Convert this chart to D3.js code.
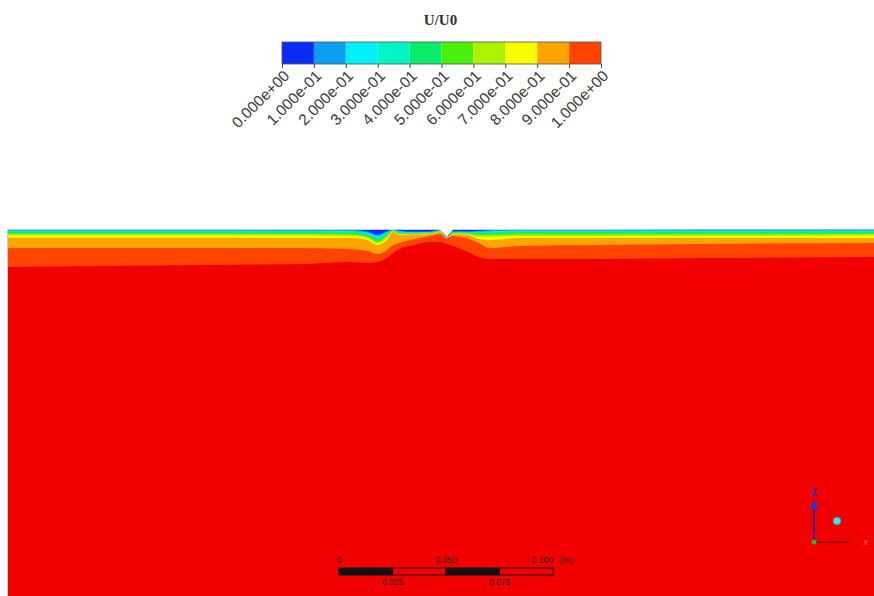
<!DOCTYPE html>
<html>
<head>
<meta charset="utf-8">
<script src="https://cdn.jsdelivr.net/npm/d3@7/dist/d3.min.js"></script>
<style>
  html, body { margin: 0; padding: 0; background: #fff; }
  svg { display: block; }
</style>
</head>
<body>
<div id="chart"></div>
<script>
// colour bar
const levels = [0, 0.1, 0.2, 0.3, 0.4, 0.5, 0.6, 0.7, 0.8, 0.9, 1.0];
const levelLabels = ['0.000e+00', '1.000e-01', '2.000e-01', '3.000e-01', '4.000e-01', '5.000e-01',
  '6.000e-01', '7.000e-01', '8.000e-01', '9.000e-01', '1.000e+00'];
const bandColors = ['#0a2cf5', '#0c9ef2', '#00f0fa', '#00f5c4', '#0aed6a', '#48f00a',
  '#acf200', '#fafa00', '#fca400', '#ff4400'];
const fieldColor = '#f20000';

// contour profiles: station position along the bed (mm) and depth below top (mm)
const stationX = [0, 43, 90, 136, 160, 168, 173, 177, 180, 183, 190, 197, 202, 205, 208, 214, 220, 225, 239, 277, 323, 405];
const surfaceDepth = [0.4, 0.4, 0.4, 0.4, 0.4, 0.4, 0.4, 0.4, 0.4, 0.4, 0.4, 0.4, 0.4, 3.7, 0.4, 0.4, 0.4, 0.4, 0.3, 0.3, 0.2, 0.2];
const depth01 = [0.4, 0.4, 0.4, 0.4, 0.4, 1.3, 2.7, 1.1, 0.4, 0.8, 1.2, 1.2, 0.5, 3.7, 1.1, 1.1, 0.9, 0.5, 0.3, 0.3, 0.2, 0.2];
const depth02 = [0.8, 0.8, 0.8, 0.8, 0.9, 1.7, 3.3, 1.5, 0.5, 1.2, 1.4, 1.3, 0.6, 3.7, 1.2, 1.3, 1.2, 1.0, 0.8, 0.8, 0.7, 0.7];
const depth03 = [1.2, 1.2, 1.2, 1.2, 1.3, 2.1, 4.0, 1.9, 0.6, 1.5, 1.6, 1.5, 0.7, 3.8, 1.4, 1.5, 1.5, 1.4, 1.2, 1.2, 1.2, 1.2];
const depth04 = [1.5, 1.5, 1.5, 1.5, 1.6, 2.6, 4.7, 2.3, 0.7, 1.7, 1.8, 1.6, 0.8, 3.8, 1.6, 1.7, 1.8, 1.7, 1.5, 1.5, 1.5, 1.5];
const depth05 = [1.9, 1.9, 1.9, 1.9, 2.1, 3.3, 5.4, 2.8, 0.8, 2.0, 2.0, 1.8, 0.9, 3.9, 1.8, 1.9, 2.2, 2.1, 1.9, 1.9, 1.9, 1.9];
const depth06 = [2.3, 2.3, 2.3, 2.3, 2.6, 3.7, 6.1, 3.3, 0.9, 2.2, 2.2, 2.0, 1.0, 3.9, 2.0, 2.1, 2.8, 2.8, 2.6, 2.6, 2.6, 2.3];
const depth07 = [3.0, 3.0, 3.0, 3.0, 3.3, 4.2, 6.8, 4.2, 1.2, 2.4, 2.4, 2.2, 1.2, 4.0, 2.2, 2.3, 3.7, 3.7, 3.3, 3.3, 3.3, 3.0];
const depth08 = [4.1, 4.1, 4.1, 4.2, 4.2, 5.1, 7.5, 5.1, 1.4, 2.8, 2.6, 2.3, 1.4, 4.1, 2.4, 2.6, 4.7, 5.1, 4.2, 4.2, 4.2, 4.2];
const depth09 = [8.9, 8.9, 8.9, 8.9, 9.3, 10.3, 11.7, 9.8, 7.5, 6.5, 4.7, 3.3, 2.3, 4.2, 3.3, 4.2, 6.5, 8.9, 7.9, 7.5, 7.0, 6.5];
const depth10 = [17.8, 17.3, 16.8, 16.4, 15.4, 15.9, 15.4, 13.6, 11.2, 9.3, 7.5, 6.1, 6.1, 7.0, 7.9, 10.3, 13.1, 14.0, 14.0, 14.0, 13.6, 13.1];
const isoDepths = [depth01, depth02, depth03, depth04, depth05, depth06, depth07, depth08, depth09, depth10];

// scale bar (mm from its origin)
const scaleBarOrigin = 154.7;
const scaleBarTicks = [0, 25, 50, 75, 100];
const scaleBarLabels = ['0', '0.025', '0.050', '0.075', '0.100'];

const width = 874, height = 596;

const svg = d3.select('#chart')
  .append('svg')
    .attr('width', width)
    .attr('height', height);

// domain scales
const xScale = d3.scaleLinear().domain([0, 404.7]).range([8, 874]);
const yScale = d3.scaleLinear().domain([0, 171.5]).range([229, 596]);

const field = svg.append('g').classed('field', true);

field.append('rect')
  .attr('x', xScale(0))
  .attr('y', yScale(0))
  .attr('width', xScale(404.7) - xScale(0))
  .attr('height', yScale(171.5) - yScale(0))
  .style('fill', fieldColor);

const bandArea = (depths) => d3.area()
  .x((d, i) => xScale(stationX[i]))
  .y0(yScale(0))
  .y1((d, i) => yScale(depths[i]))
  .curve(d3.curveMonotoneX);

// paint from the deepest iso-line up to the surface
for (let k = isoDepths.length - 1; k >= 0; k--) {
  field.append('path')
    .datum(isoDepths[k])
    .attr('d', bandArea(isoDepths[k]))
    .style('fill', bandColors[k]);
}

// empty region above the free surface
field.append('path')
  .datum(surfaceDepth)
  .attr('d', d3.area()
    .x((d, i) => xScale(stationX[i]))
    .y0(yScale(0) - 1)
    .y1((d) => yScale(d))
    .curve(d3.curveLinear))
  .style('fill', '#fff');

field.append('line')
  .attr('x1', xScale(0) - 0.5).attr('x2', xScale(0) - 0.5)
  .attr('y1', yScale(0)).attr('y2', height)
  .style('stroke', '#c8c8c8');

// colour bar
const cbScale = d3.scaleLinear().domain([0, 1]).range([282, 601]);
const cbTop = 42, cbHeight = 22;
const cb = svg.append('g').classed('colorbar', true);

cb.selectAll('rect.band')
  .data(bandColors)
  .enter()
    .append('rect')
    .classed('band', true)
    .attr('x', (d, i) => cbScale(levels[i]))
    .attr('y', cbTop)
    .attr('width', (d, i) => cbScale(levels[i + 1]) - cbScale(levels[i]))
    .attr('height', cbHeight)
    .style('fill', (d) => d);

cb.append('rect')
  .attr('x', cbScale(0))
  .attr('y', cbTop)
  .attr('width', cbScale(1) - cbScale(0))
  .attr('height', cbHeight)
  .style('fill', 'none')
  .style('stroke', '#555')
  .style('stroke-width', 0.8);

const cbAxis = d3.axisBottom(cbScale)
  .tickValues(levels)
  .tickSize(4)
  .tickFormat((d, i) => levelLabels[i]);

const cbAxisGroup = cb.append('g')
  .attr('transform', `translate(0,${cbTop + cbHeight})`)
  .call(cbAxis);
cbAxisGroup.select('.domain').remove();
cbAxisGroup.selectAll('.tick line').style('stroke', '#444');
cbAxisGroup.selectAll('.tick text')
  .attr('x', 0).attr('y', 0).attr('dy', '0.35em')
  .attr('transform', 'translate(4,9) rotate(-45)')
  .style('text-anchor', 'end')
  .style('font-family', '"Liberation Sans", Arial, sans-serif')
  .style('font-size', '15.5px')
  .style('fill', '#3a3a3a');

cb.append('text')
  .attr('x', (cbScale(0) + cbScale(1)) / 2 - 1)
  .attr('y', 25)
  .style('text-anchor', 'middle')
  .style('font-family', '"Liberation Serif", "Times New Roman", serif')
  .style('font-weight', 'bold')
  .style('font-size', '15px')
  .style('fill', '#333')
  .text('U/U0');

// scale bar
const sb = svg.append('g').classed('scalebar', true);
const sbx = (v) => xScale(scaleBarOrigin + v);
const sbTop = 568, sbH = 7;

sb.selectAll('rect.seg')
  .data(d3.pairs(scaleBarTicks))
  .enter()
    .append('rect')
    .classed('seg', true)
    .attr('x', (d) => sbx(d[0]))
    .attr('y', sbTop)
    .attr('width', (d) => sbx(d[1]) - sbx(d[0]))
    .attr('height', sbH)
    .style('fill', (d, i) => i % 2 === 0 ? '#111' : 'none')
    .style('stroke', '#111')
    .style('stroke-width', 1);

sb.selectAll('text.lab')
  .data(scaleBarTicks)
  .enter()
    .append('text')
    .classed('lab', true)
    .attr('x', (d) => sbx(d))
    .attr('y', (d, i) => i % 2 === 0 ? sbTop - 5 : sbTop + sbH + 10)
    .style('text-anchor', (d, i) => i === scaleBarTicks.length - 1 ? 'end' : 'middle')
    .style('font-family', '"Liberation Sans", Arial, sans-serif')
    .style('font-size', '8.5px')
    .style('fill', '#222')
    .text((d, i) => scaleBarLabels[i]);

sb.append('text')
  .attr('x', sbx(100) + 7)
  .attr('y', sbTop - 5)
  .style('font-family', '"Liberation Sans", Arial, sans-serif')
  .style('font-size', '8.5px')
  .style('fill', '#222')
  .text('(m)');

// orientation triad
const triad = svg.append('g').attr('transform', 'translate(814,542)');
triad.append('line')
  .attr('x1', 0).attr('y1', 0).attr('x2', 36).attr('y2', 0)
  .style('stroke', '#8a0000').style('stroke-width', 1.6);
triad.append('text')
  .attr('x', 49).attr('y', 3)
  .style('font-family', '"Liberation Sans", Arial, sans-serif')
  .style('font-size', '8px')
  .style('fill', '#ff7070')
  .text('X');
triad.append('line')
  .attr('x1', 0).attr('y1', 0).attr('x2', 0).attr('y2', -35)
  .style('stroke', '#2a1fb0').style('stroke-width', 1.8);
triad.append('path')
  .attr('d', 'M0,-43 L-4,-33 L4,-33 Z')
  .style('fill', '#2a30d8');
triad.append('text')
  .attr('x', 0).attr('y', -46)
  .style('text-anchor', 'middle')
  .style('font-family', '"Liberation Sans", Arial, sans-serif')
  .style('font-weight', 'bold')
  .style('font-size', '10px')
  .style('fill', '#3a2fb0')
  .text('Z');
triad.append('circle')
  .attr('cx', 0).attr('cy', 0).attr('r', 2.5)
  .style('fill', '#22b830');
triad.append('circle')
  .attr('cx', 23).attr('cy', -21).attr('r', 3.8)
  .style('fill', '#30e8e0')
  .style('stroke', '#20b0b0')
  .style('stroke-width', 0.6);
</script>
</body>
</html>
